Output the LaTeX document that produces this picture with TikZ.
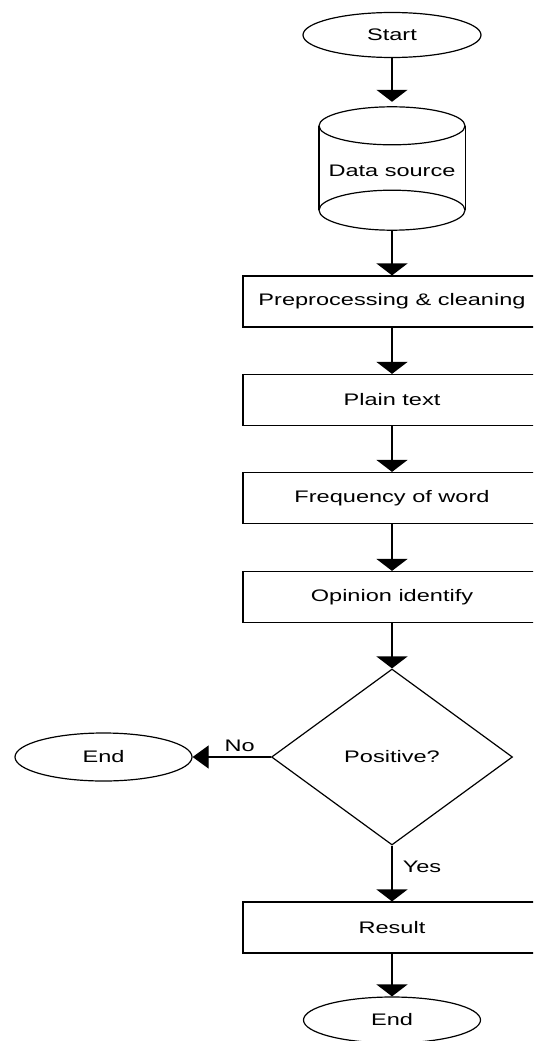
\documentclass[tikz,border=0pt]{standalone}
\usepackage{fontspec}
\setmainfont{Liberation Sans}
\usepackage{graphicx}
\usetikzlibrary{shapes.geometric,arrows.meta}
\newcommand{\wt}[1]{\scalebox{1.41}[1]{#1}}
\tikzset{
  base/.style={draw=black, line width=1.2pt, inner sep=0pt, font=\fontsize{16.7}{20}\selectfont},
  term/.style={base, ellipse, minimum width=178pt, minimum height=45pt},
  proc/.style={base, rectangle, minimum width=298pt, minimum height=51pt},
  decis/.style={base, diamond, minimum width=241pt, minimum height=176pt},
  lbl/.style={inner sep=0pt, font=\fontsize{16.7}{20}\selectfont},
  arr/.style={line width=1.5pt, -{Triangle[width=31pt,length=12pt]}},
  harr/.style={line width=1.1pt, -{Triangle[width=23pt,length=16pt]}}
}
\begin{document}
\begin{tikzpicture}[x=1pt,y=-1pt]
\clip (0,0) rectangle (533,1041);
\node[term] (start) at (392,35) {\wt{Start}};
\node[inner sep=0pt, minimum width=146pt, minimum height=123pt] (ds) at (392,168.5) {};
\draw[line width=1.2pt] ([yshift=-19pt]ds.north) ellipse (73pt and 19pt);
\draw[line width=1.2pt] ([yshift=20pt]ds.south) ellipse (73pt and 20pt);
\draw[line width=1.4pt] ([yshift=-19pt]ds.north west) -- ([yshift=20pt]ds.south west);
\draw[line width=1.4pt] ([yshift=-19pt]ds.north east) -- ([yshift=20pt]ds.south east);
\node[lbl] (dstext) at (392,171) {\wt{Data source}};
\node[proc] (pre) at (392,301.5) {\wt{Preprocessing \& cleaning}};
\node[proc] (plain) at (392,400) {\wt{Plain text}};
\node[proc] (freq) at (392,498) {\wt{Frequency of word}};
\node[proc] (opin) at (392,597) {\wt{Opinion identify}};
\node[decis] (pos) at (392,757) {\wt{Positive?}};
\node[term, minimum width=177pt, minimum height=48pt] (endl) at (103.5,757) {\wt{End}};
\node[proc] (res) at (392,927.5) {\wt{Result}};
\node[term, minimum width=177pt, minimum height=46pt] (endb) at (392,1020) {\wt{End}};
\draw[arr, shorten >=5pt] (start) -- (ds.north);
\draw[arr] (ds.south) -- (pre);
\draw[arr] (pre) -- (plain);
\draw[arr] (plain) -- (freq);
\draw[arr] (freq) -- (opin);
\draw[arr] (opin) -- (pos);
\draw[harr] (pos.west) -- (endl.east) node[pos=0.4, lbl, above=5pt] {\wt{No}};
\draw[arr] (pos.south) -- (res) node[pos=0.38, lbl, right=10pt] {\wt{Yes}};
\draw[arr] (res) -- (endb);
\end{tikzpicture}
\end{document}
